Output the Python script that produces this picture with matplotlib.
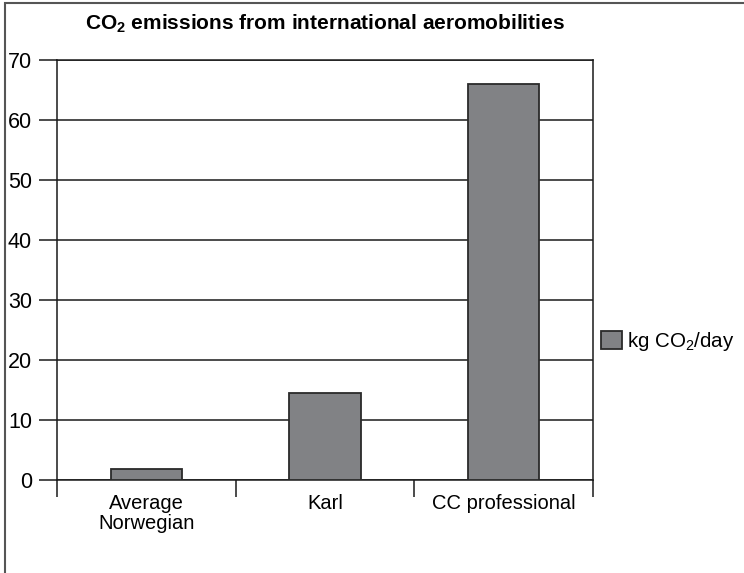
import matplotlib
matplotlib.use("Agg")
import matplotlib.pyplot as plt
from matplotlib.patches import Rectangle
import numpy as np

plt.rcParams['font.family'] = ['Liberation Sans', 'DejaVu Sans']
plt.rcParams['mathtext.default'] = 'regular'

# data
categories = ['Average\nNorwegian', 'Karl', 'CC professional']
kg_co2_day = [1.8, 14.5, 66.0]
y_ticks = [0, 10, 20, 30, 40, 50, 60, 70]

bar_color = '#818285'
edge_color = '#2a2a2a'

fig = plt.figure(figsize=(7.44, 5.73), dpi=100)
ax = fig.add_axes([57/744, 1 - 480/573, 536/744, 420/573])

x = np.arange(len(categories))
ax.bar(x, kg_co2_day, width=0.4, color=bar_color, edgecolor=edge_color,
       linewidth=1.3, zorder=3, label='kg CO$_2$/day')

ax.set_xlim(-0.5, len(categories) - 0.5)
ax.set_ylim(0, 70)
ax.set_yticks(y_ticks)
ax.yaxis.grid(True, color='#1a1a1a', linewidth=1.1, zorder=1)
ax.set_axisbelow(True)

# labels at centres, tick marks on category boundaries
ax.set_xticks(x)
ax.set_xticklabels(categories, fontsize=14.5, linespacing=1.05)
ax.tick_params(axis='x', which='major', length=0, pad=10)
ax.set_xticks(np.arange(len(categories) + 1) - 0.5, minor=True)
ax.tick_params(axis='x', which='minor', length=12, width=1.1, color='#1a1a1a')
ax.tick_params(axis='y', length=13, width=1.1, color='#1a1a1a', labelsize=15.5, pad=5)

for s in ax.spines.values():
    s.set_color('#1a1a1a')
    s.set_linewidth(1.1)

ax.set_title('CO$_2$ emissions from international aeromobilities',
             fontsize=15, fontweight='bold', pad=22)

ax.legend(loc='center left', bbox_to_anchor=(1.0, 0.33), frameon=False,
          fontsize=14.8, handlelength=1.0, handleheight=1.0, handletextpad=0.25,
          borderaxespad=0)

# outer frame (left and top edges only visible)
fig.add_artist(Rectangle((5/744, -0.1), 1.2, 1.1 - 3/573, transform=fig.transFigure,
                         fill=False, edgecolor='#555555', linewidth=1.5))

fig.savefig('out.png', dpi=100)
